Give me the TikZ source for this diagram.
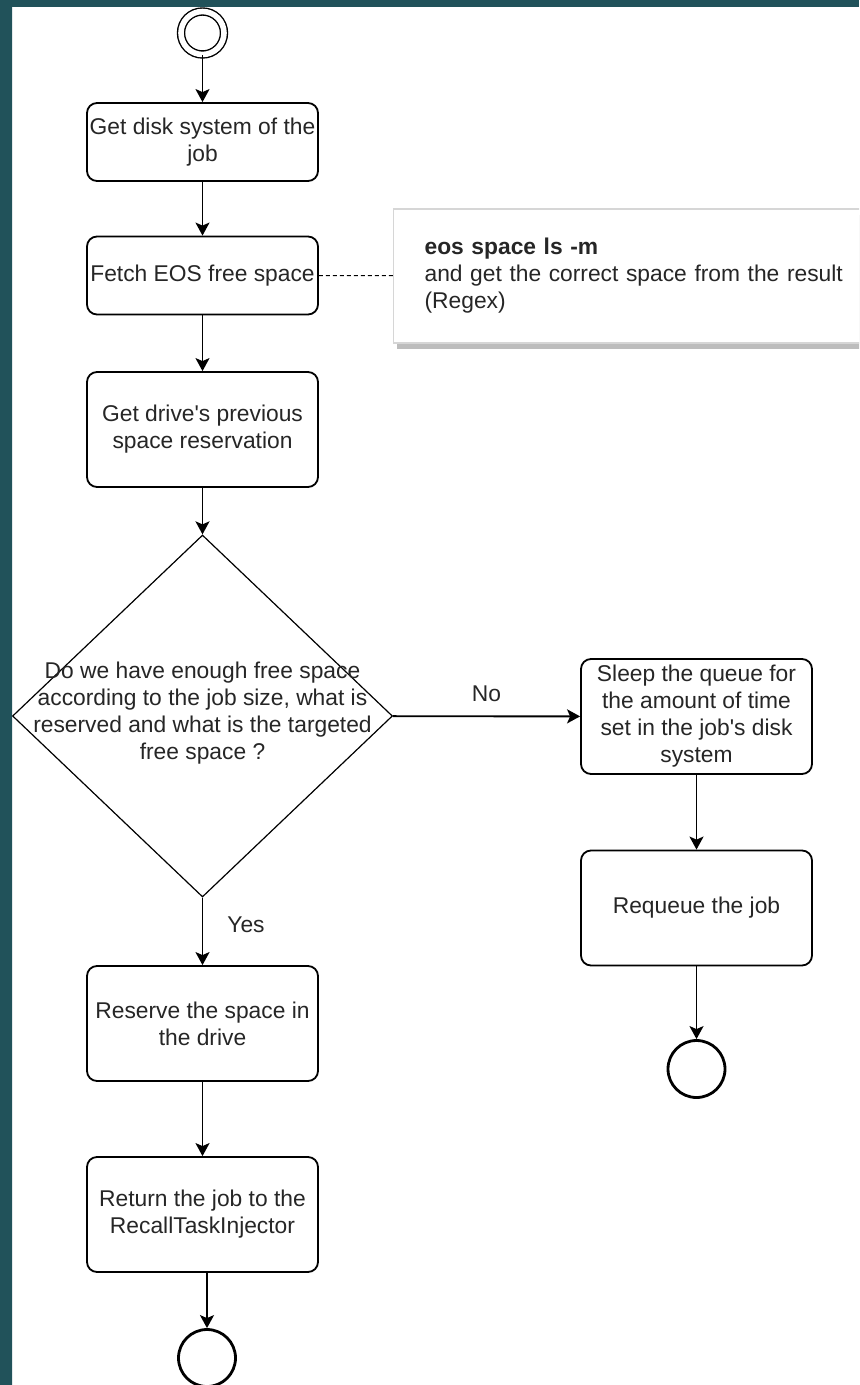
\documentclass[tikz,border=0pt]{standalone}
\usepackage{fontspec}
\setmainfont{Liberation Sans}
\usetikzlibrary{shapes.geometric,arrows.meta,shadows}
\definecolor{slideteal}{HTML}{21525A}
\definecolor{slidetealhi}{HTML}{397671}
\definecolor{notegray}{HTML}{D6D6D6}
\definecolor{shadegray}{HTML}{BDBDBD}

\begin{document}
\begin{tikzpicture}[x=0.5pt,y=-0.5pt,font=\fontsize{11.4}{13.5}\selectfont,text=black!85,
act/.style={rectangle,rounded corners=5pt,draw,line width=0.9pt,minimum width=115.5pt,minimum height=#1,inner sep=0pt,align=center},
act/.default=57.5pt,
dec/.style={diamond,draw,line width=0.6pt,minimum width=190pt,minimum height=181pt,inner sep=0pt},
note/.style={rectangle,draw=notegray,fill=white,line width=0.6pt,drop shadow={shadow xshift=1.5pt,shadow yshift=-3pt,fill=shadegray,opacity=1},text width=215pt,minimum height=67pt,inner xsep=15.5pt,align=left},
initst/.style={circle,draw,double,double distance=2.8pt,line width=0.7pt,minimum size=21.5pt,inner sep=0pt},
endst/.style={circle,draw,line width=1.4pt,minimum size=28.5pt,inner sep=0pt},
arr/.style={-{Stealth[length=6.5pt,width=7pt,inset=1.5pt]},line width=0.95pt}]
% slide background
\useasboundingbox (0,0) rectangle (859,1385);
\clip (0,0) rectangle (859,1385);
\fill[white] (0,0) rectangle (859,1385);
\fill[slideteal] (0,0) rectangle (859,7);
\shade[top color=slideteal,middle color=slidetealhi,bottom color=slideteal] (0,0) rectangle (12,1385);
% main column
\node[initst] (start) at (202.5,33) {};
\node[act=39pt] (disk) at (202.5,142) {Get disk system of the\\job};
\node[act=39pt] (fetch) at (202.5,275.5) {Fetch EOS free space};
\node[act] (prev) at (202.5,429.5) {Get drive\textquotesingle s previous\\space reservation};
\node[dec] (check) at (202.5,716) {};
\node[align=center] (checktxt) at (202.5,713.5) {Do we have enough free space\\according to the job size, what is\\reserved and what is the targeted\\free space ?};
\node[act] (resv) at (202.5,1023.5) {Reserve the space in\\the drive};
\node[act] (ret) at (202.5,1214.5) {Return the job to the\\RecallTaskInjector};
\node[endst] (endok) at (207,1358) {};
% retry column
\node[act] (sleep) at (696.5,716.5) {Sleep the queue for\\the amount of time\\set in the job\textquotesingle s disk\\system};
\node[act] (requeue) at (696.5,908) {Requeue the job};
\node[endst] (endretry) at (696.5,1069) {};
% comment
\node[note,anchor=west] (eoscmd) at (393,276) {\textbf{eos space ls -m}\\and get the correct space from the result\\(Regex)};
\draw[dash pattern=on 2pt off 1.5pt,line width=0.5pt] (fetch) -- (eoscmd);
\foreach \a/\b in {start/disk,disk/fetch,fetch/prev,prev/check,resv/ret,sleep/requeue,requeue/endretry} {
   \draw[arr] (\a) -- (\b);
}
\draw[arr] (check) -- node[yshift=11.5pt] {No} (sleep);
\draw[arr] (check) -- node[xshift=21.75pt,yshift=3.5pt] {Yes} (resv);
\draw[arr] (endok.north |- ret.south) -- (endok);
\end{tikzpicture}
\end{document}
